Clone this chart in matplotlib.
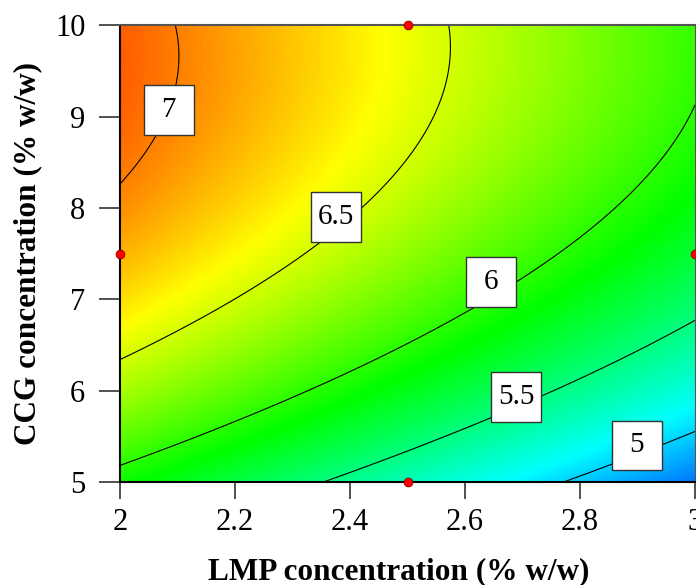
import numpy as np
import matplotlib
matplotlib.use("Agg")
import matplotlib.pyplot as plt
from matplotlib.colors import LinearSegmentedColormap
from matplotlib.patches import Rectangle

# factor ranges (LMP, CCG) in % w/w
lmp_range = [2.0, 3.0]
ccg_range = [5.0, 10.0]

# quadratic model in coded units
# terms: b0, A, B, AB, A^2, B^2
coef = [6.30, -0.565, 0.625, 0.03, -0.014, -0.348]

levels = [5.0, 5.5, 6.0, 6.5, 7.0]
level_labels = ["5", "5.5", "6", "6.5", "7"]

# design points shown on the plot
pts_lmp = [2.0, 2.5, 2.5, 3.0]
pts_ccg = [7.5, 10.0, 5.0, 7.5]

x_ticks = [2, 2.2, 2.4, 2.6, 2.8, 3]
x_ticklabels = ["2", "2.2", "2.4", "2.6", "2.8", "3"]
y_ticks = [5, 6, 7, 8, 9, 10]

plt.rcParams['font.family'] = ['Liberation Serif', 'DejaVu Serif']

lmp = np.linspace(lmp_range[0], lmp_range[1], 300)
ccg = np.linspace(ccg_range[0], ccg_range[1], 300)
L, C = np.meshgrid(lmp, ccg)
A = (L - 2.5) / 0.5
B = (C - 7.5) / 2.5
Z = coef[0] + coef[1]*A + coef[2]*B + coef[3]*A*B + coef[4]*A**2 + coef[5]*B**2

cmap = LinearSegmentedColormap.from_list(
    "dx", ["#0000ff", "#00ffff", "#00ff00", "#ffff00", "#ff0000"])

fig = plt.figure(figsize=(6.96, 5.85), dpi=100)
ax = fig.add_axes([0.1724, 0.176, 0.8262, 0.781])

ax.pcolormesh(L, C, Z, cmap=cmap, vmin=4.37, vmax=7.38, shading='gouraud')
cs = ax.contour(L, C, Z, levels=levels, colors='black', linewidths=0.8)

# label boxes (same size for every label)
label_pos = [(2.899, 5.40), (2.689, 5.93), (2.645, 7.19), (2.376, 7.90), (2.085, 9.07)]
bw, bh = 0.087, 0.545
for (lx, ly), lab in zip(label_pos, level_labels):
    ax.add_patch(Rectangle((lx - bw/2, ly - bh/2), bw, bh, facecolor='white',
                           edgecolor='#333333', linewidth=1, zorder=4))
    ax.text(lx, ly, lab, ha='center', va='center', fontsize=21, zorder=5)

ax.scatter(pts_lmp, pts_ccg, s=40, color='red', edgecolors='#880000', linewidths=0.6,
           zorder=6, clip_on=False)

ax.set_xlim(lmp_range)
ax.set_ylim(ccg_range)
ax.set_xticks(x_ticks)
ax.set_xticklabels(x_ticklabels)
ax.set_yticks(y_ticks)
ax.tick_params(axis='both', labelsize=22, direction='out', width=1.2, color='#333333')
ax.tick_params(axis='x', length=12, pad=7)
ax.tick_params(axis='y', length=15, pad=10)

for side in ['left', 'bottom']:
    ax.spines[side].set_color('black')
    ax.spines[side].set_linewidth(1.5)
ax.spines['top'].set_color('#555555')
ax.spines['top'].set_linewidth(1.5)
ax.spines['right'].set_color('#555555')

ax.set_xlabel('LMP concentration (% w/w)', fontsize=22.5, fontweight='bold', labelpad=14)
ax.set_ylabel('CCG concentration (% w/w)', fontsize=22.5, fontweight='bold', labelpad=9)
ax.xaxis.label.set_x(0.485)

fig.savefig('out.png', dpi=100)
